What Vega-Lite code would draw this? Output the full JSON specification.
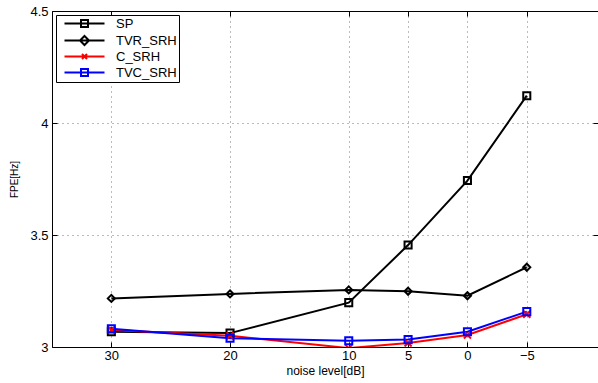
{
  "$schema": "https://vega.github.io/schema/vega-lite/v6.json",
  "width": 546,
  "height": 336,
  "autosize": {"type": "none"},
  "padding": {"left": 52, "top": 11, "right": 0, "bottom": 36},
  "background": "white",
  "config": {
    "view": {"stroke": null},
    "font": "Liberation Sans",
    "axis": {
      "labelFont": "Liberation Sans",
      "titleFont": "Liberation Sans",
      "labelColor": "black",
      "titleColor": "black",
      "titleFontWeight": "normal",
      "labelFontSize": 13,
      "tickColor": "black",
      "domainColor": "black",
      "tickSize": -5,
      "gridColor": "#777",
      "gridDash": [1, 4],
      "gridOpacity": 1,
      "gridWidth": 1
    },
    "legend": {
      "labelFont": "Liberation Sans",
      "labelFontSize": 13,
      "labelColor": "black"
    }
  },
  "data": {
    "values": [
      {"x": 30, "series": "SP", "y": 3.068},
      {"x": 20, "series": "SP", "y": 3.062},
      {"x": 10, "series": "SP", "y": 3.198},
      {"x": 5, "series": "SP", "y": 3.455},
      {"x": 0, "series": "SP", "y": 3.743},
      {"x": -5, "series": "SP", "y": 4.122},
      {"x": 30, "series": "TVR_SRH", "y": 3.217},
      {"x": 20, "series": "TVR_SRH", "y": 3.237},
      {"x": 10, "series": "TVR_SRH", "y": 3.255},
      {"x": 5, "series": "TVR_SRH", "y": 3.249},
      {"x": 0, "series": "TVR_SRH", "y": 3.229},
      {"x": -5, "series": "TVR_SRH", "y": 3.356},
      {"x": 30, "series": "C_SRH", "y": 3.076},
      {"x": 20, "series": "C_SRH", "y": 3.05},
      {"x": 10, "series": "C_SRH", "y": 2.995},
      {"x": 5, "series": "C_SRH", "y": 3.018},
      {"x": 0, "series": "C_SRH", "y": 3.054},
      {"x": -5, "series": "C_SRH", "y": 3.146},
      {"x": 30, "series": "TVC_SRH", "y": 3.081},
      {"x": 20, "series": "TVC_SRH", "y": 3.039},
      {"x": 10, "series": "TVC_SRH", "y": 3.028},
      {"x": 5, "series": "TVC_SRH", "y": 3.033},
      {"x": 0, "series": "TVC_SRH", "y": 3.068},
      {"x": -5, "series": "TVC_SRH", "y": 3.158}
    ]
  },
  "resolve": {
    "axis": {"x": "independent", "y": "independent"},
    "scale": {"color": "independent", "shape": "independent"},
    "legend": {"color": "independent", "shape": "independent"}
  },
  "layer": [
    {
      "mark": {"type": "line", "strokeWidth": 2, "clip": true},
      "encoding": {
        "x": {
          "field": "x", "type": "quantitative",
          "scale": {"domain": [35, -11], "nice": false, "zero": false},
          "axis": {
            "values": [30, 20, 10, 5, 0, -5],
            "title": "noise level[dB]",
            "titleFontSize": 12,
            "titlePadding": 3,
            "labelPadding": 7,
            "grid": true,
            "domain": true
          }
        },
        "y": {
          "field": "y", "type": "quantitative",
          "scale": {"domain": [3, 4.5], "nice": false, "zero": false},
          "axis": {
            "values": [3, 3.5, 4, 4.5],
            "format": "~g",
            "title": "FPE[Hz]",
            "titleFontSize": 10,
            "titlePadding": 10,
            "labelPadding": 9,
            "grid": true,
            "domain": true
          }
        },
        "color": {
          "field": "series", "type": "nominal",
          "scale": {"domain": ["SP", "TVR_SRH", "C_SRH", "TVC_SRH"], "range": ["black", "black", "#ff0000", "#0000ff"]},
          "legend": {
            "title": null,
            "orient": "top-left",
            "offset": 4,
            "padding": 2,
            "fillColor": "white",
            "strokeColor": "black",
            "symbolSize": 100,
            "symbolStrokeWidth": 2,
            "labelOffset": 45,
            "rowPadding": 1,
            "encode": {
              "symbols": {
                "update": {
                  "shape": {"signal": "datum.value === 'SP' ? 'M0,0L8,0M3.3,-0.7L4.7,-0.7L4.7,0.7L3.3,0.7Z' : datum.value === 'TVR_SRH' ? 'M0,0L8,0M4,-0.9L4.9,0L4,0.9L3.1,0Z' : datum.value === 'C_SRH' ? 'M0,0L8,0M3.5,-0.5L4.5,0.5M3.5,0.5L4.5,-0.5' : 'M0,0L8,0M3.3,-0.7L4.7,-0.7L4.7,0.7L3.3,0.7Z'"},
                  "fill": {"value": "transparent"},
                  "strokeWidth": {"value": 2}
                }
              }
            }
          }
        }
      }
    },
    {
      "mark": {"type": "point", "filled": false, "strokeWidth": 2, "size": 50, "opacity": 1, "clip": true},
      "encoding": {
        "x": {
          "field": "x", "type": "quantitative",
          "axis": {"orient": "top", "values": [30, 20, 10, 5, 0, -5], "labels": false, "title": null, "grid": false, "domain": true}
        },
        "y": {
          "field": "y", "type": "quantitative",
          "axis": {"orient": "right", "values": [3, 3.5, 4, 4.5], "labels": false, "title": null, "grid": false, "domain": false}
        },
        "color": {
          "field": "series", "type": "nominal",
          "scale": {"domain": ["SP", "TVR_SRH", "C_SRH", "TVC_SRH"], "range": ["black", "black", "#ff0000", "#0000ff"]},
          "legend": null
        },
        "shape": {
          "field": "series", "type": "nominal",
          "scale": {"domain": ["SP", "TVR_SRH", "C_SRH", "TVC_SRH"], "range": ["square", "diamond", "M-1,-1L1,1M-1,1L1,-1", "square"]},
          "legend": null
        }
      }
    }
  ]
}
